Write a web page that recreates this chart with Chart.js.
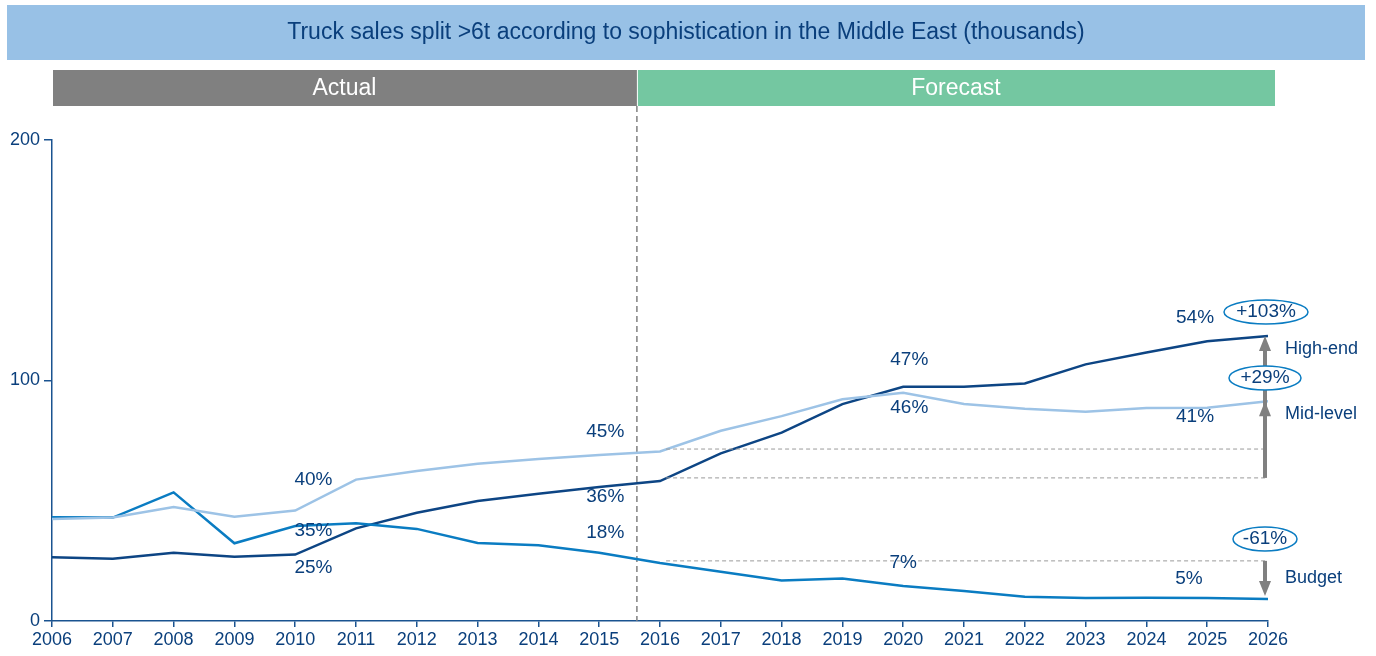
<!DOCTYPE html>
<html>
<head>
<meta charset="utf-8">
<script src="https://cdn.jsdelivr.net/npm/chart.js@4/dist/chart.umd.min.js"></script>
<style>
  html, body { margin: 0; padding: 0; background: #fff; }
  #truckChart { display: block; }
</style>
</head>
<body>
<canvas id="truckChart" width="1376" height="656"></canvas>
<script>
// data (thousands of trucks)
const years = [2006, 2007, 2008, 2009, 2010, 2011, 2012, 2013, 2014, 2015, 2016,
               2017, 2018, 2019, 2020, 2021, 2022, 2023, 2024, 2025, 2026];
const highEnd  = [26.5, 25.9, 28.4, 26.7, 27.6, 38.5, 45.0, 49.9, 52.9, 55.7, 58.2,
                  69.7, 78.3, 90.2, 97.4, 97.4, 98.8, 106.7, 111.6, 116.3, 118.5];
const midLevel = [42.4, 43.0, 47.4, 43.4, 45.9, 58.8, 62.4, 65.4, 67.4, 69.0, 70.5,
                  79.1, 85.2, 92.2, 94.9, 90.2, 88.3, 87.0, 88.6, 88.7, 91.4];
const budget   = [43.1, 43.0, 53.5, 32.3, 39.5, 40.6, 38.3, 32.4, 31.5, 28.4, 24.1,
                  20.5, 16.8, 17.7, 14.6, 12.5, 10.1, 9.6, 9.7, 9.6, 9.1];
const yTicks = [0, 100, 200];

// 2016 base levels the growth arrows start from
const baseYear = 2016.1;
const baseHigh = 59.5;
const baseMid = 71.5;
const baseBudget = 25;
const splitYear = 2015.62;   // actual / forecast boundary

// share labels: [year, value, text]
const shareLabels = [
  [2010.3, 58.6, '40%'], [2010.3, 37.4, '35%'], [2010.3, 22.0, '25%'],
  [2015.1, 78.6, '45%'], [2015.1, 51.6, '36%'], [2015.1, 36.6, '18%'],
  [2020.1, 108.5, '47%'], [2020.1, 88.6, '46%'], [2020.0, 24.1, '7%'],
  [2024.8, 126.0, '54%'], [2024.8, 84.8, '41%'], [2024.7, 17.5, '5%']
];
const growthLabels = ['+103%', '+29%', '-61%'];
const segmentNames = ['High-end', 'Mid-level', 'Budget'];

const navy = '#0d4584';
const textBlue = '#0a3f7c';
const midBlue = '#0a7cc2';
const lightBlue = '#9dc3e6';
const grey = '#808080';
const FONT = '"Liberation Sans", Arial, sans-serif';

function pts(values) {
  return years.map((y, i) => ({ x: y, y: values[i] }));
}
function flat(v) {
  return [{ x: baseYear, y: v }, { x: years[years.length - 1], y: v }];
}

const decorations = {
  id: 'decorations',
  beforeDatasetsDraw(chart) {
    const ctx = chart.ctx;
    const xs = chart.scales.x, ys = chart.scales.y;
    const sx = xs.getPixelForValue(splitYear);
    ctx.save();
    ctx.strokeStyle = grey;
    ctx.lineWidth = 1.5;
    ctx.setLineDash([6, 4]);
    ctx.beginPath();
    ctx.moveTo(sx, 106);
    ctx.lineTo(sx, ys.getPixelForValue(0));
    ctx.stroke();
    ctx.restore();
  },
  afterDraw(chart) {
    const ctx = chart.ctx;
    const xs = chart.scales.x, ys = chart.scales.y;
    const area = chart.chartArea;
    const sx = xs.getPixelForValue(splitYear);
    ctx.save();

    // title band
    ctx.fillStyle = '#98c1e6';
    ctx.fillRect(7, 5, 1358, 55);
    ctx.fillStyle = textBlue;
    ctx.font = '23px ' + FONT;
    ctx.textAlign = 'center';
    ctx.textBaseline = 'middle';
    ctx.fillText('Truck sales split >6t according to sophistication in the Middle East (thousands)', 686, 33);

    // actual / forecast bands
    ctx.fillStyle = '#808080';
    ctx.fillRect(area.left + 1, 70, sx - area.left - 1, 36);
    ctx.fillStyle = '#74c7a1';
    ctx.fillRect(sx + 1, 70, area.right + 7 - sx - 1, 36);
    ctx.fillStyle = '#ffffff';
    ctx.fillText('Actual', (area.left + sx) / 2, 89);
    ctx.fillText('Forecast', (sx + area.right + 7) / 2, 89);

    // share labels
    ctx.fillStyle = textBlue;
    ctx.font = '19px ' + FONT;
    shareLabels.forEach(([yr, v, t]) => {
      ctx.fillText(t, xs.getPixelForValue(yr), ys.getPixelForValue(v));
    });

    // growth arrows
    const ax = xs.getPixelForValue(years[years.length - 1]) - 3;
    const last = years.length - 1;
    const head = (tipY, dir) => {
      ctx.beginPath();
      ctx.moveTo(ax, tipY);
      ctx.lineTo(ax - 6, tipY + dir * 15);
      ctx.lineTo(ax + 6, tipY + dir * 15);
      ctx.closePath();
      ctx.fill();
    };
    ctx.strokeStyle = grey;
    ctx.fillStyle = grey;
    ctx.lineWidth = 4;
    const yHigh = ys.getPixelForValue(highEnd[last]);
    const yMid = ys.getPixelForValue(midLevel[last]);
    const yBase = ys.getPixelForValue(baseHigh);
    ctx.beginPath();
    ctx.moveTo(ax, yBase);
    ctx.lineTo(ax, yHigh + 10);
    ctx.stroke();
    head(yHigh, 1);
    head(yMid, 1);
    const yBudBase = ys.getPixelForValue(baseBudget);
    const yBud = ys.getPixelForValue(budget[last]) - 3;
    ctx.beginPath();
    ctx.moveTo(ax, yBudBase);
    ctx.lineTo(ax, yBud - 10);
    ctx.stroke();
    head(yBud, -1);

    // growth ovals
    const ovals = [
      [growthLabels[0], 1266, 312, 42, 12],
      [growthLabels[1], 1265, 378, 36, 12],
      [growthLabels[2], 1265, 539, 32, 12]
    ];
    ctx.font = '19px ' + FONT;
    ovals.forEach(([t, cx, cy, rx, ry]) => {
      ctx.fillStyle = '#ffffff';
      ctx.strokeStyle = midBlue;
      ctx.lineWidth = 1.5;
      ctx.beginPath();
      ctx.ellipse(cx, cy, rx, ry, 0, 0, Math.PI * 2);
      ctx.fill();
      ctx.stroke();
      ctx.fillStyle = textBlue;
      ctx.textAlign = 'center';
      ctx.fillText(t, cx, cy);
    });

    // segment names
    ctx.font = '18px ' + FONT;
    ctx.textAlign = 'left';
    ctx.fillStyle = textBlue;
    ctx.fillText(segmentNames[0], 1285, 349);
    ctx.fillText(segmentNames[1], 1285, 414);
    ctx.fillText(segmentNames[2], 1285, 578);

    ctx.restore();
  }
};

const refLine = {
  borderColor: '#9a9a9a',
  borderWidth: 1,
  borderDash: [4, 3],
  pointRadius: 0
};

new Chart(document.getElementById('truckChart'), {
  type: 'line',
  data: {
    datasets: [
      Object.assign({ label: 'high ref', data: flat(baseHigh) }, refLine),
      Object.assign({ label: 'mid ref', data: flat(baseMid) }, refLine),
      Object.assign({ label: 'budget ref', data: flat(baseBudget) }, refLine),
      { label: 'Mid-level', data: pts(midLevel), borderColor: lightBlue, borderWidth: 2.5, pointRadius: 0 },
      { label: 'Budget', data: pts(budget), borderColor: midBlue, borderWidth: 2.5, pointRadius: 0 },
      { label: 'High-end', data: pts(highEnd), borderColor: navy, borderWidth: 2.5, pointRadius: 0 }
    ]
  },
  options: {
    responsive: false,
    animation: false,
    layout: { padding: { top: 140, right: 108, left: 0, bottom: 0 } },
    plugins: { legend: { display: false }, tooltip: { enabled: false } },
    scales: {
      x: {
        type: 'linear',
        min: years[0],
        max: years[years.length - 1],
        afterFit: s => { s.height = 35; },
        afterBuildTicks: s => { s.ticks = years.map(v => ({ value: v })); },
        ticks: {
          callback: v => String(v),
          color: textBlue,
          font: { family: FONT, size: 18 },
          padding: 2,
          maxRotation: 0,
          autoSkip: false
        },
        grid: { drawOnChartArea: false, drawTicks: true, tickLength: 6, color: '#1a5390', lineWidth: 1.5 },
        border: { color: '#1a5390', width: 1.5 }
      },
      y: {
        min: 0,
        max: 200,
        afterFit: s => { s.width = 52; },
        afterBuildTicks: s => { s.ticks = yTicks.map(v => ({ value: v })); },
        ticks: {
          color: textBlue,
          font: { family: FONT, size: 18 },
          padding: 4
        },
        grid: { drawOnChartArea: false, drawTicks: true, tickLength: 8, color: '#1a5390', lineWidth: 1.5 },
        border: { color: '#1a5390', width: 1.5 }
      }
    }
  },
  plugins: [decorations]
});
</script>
</body>
</html>
